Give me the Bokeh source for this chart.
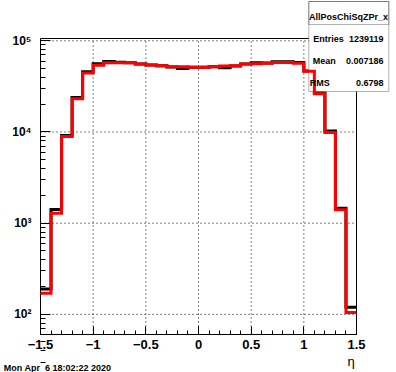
import math
from bokeh.plotting import figure
from bokeh.models import FixedTicker, BoxAnnotation, Label, Range1d
from bokeh.embed import file_html
from bokeh.resources import INLINE

# ---------------- data ----------------
bin_edges = [-1.5, -1.4, -1.3, -1.2, -1.1, -1.0, -0.9, -0.8, -0.7, -0.6, -0.5,
             -0.4, -0.3, -0.2, -0.1, 0.0, 0.1, 0.2, 0.3, 0.4, 0.5,
             0.6, 0.7, 0.8, 0.9, 1.0, 1.1, 1.2, 1.3, 1.4, 1.5]
black_counts = [190, 1413, 9160, 23900, 45700, 55900, 59300, 58200, 57400, 55700,
                54300, 53200, 51600, 49700, 51400, 51400, 51900, 50600, 53000, 55700,
                57400, 57100, 58900, 58900, 57800, 46700, 26900, 10260, 1460, 120]
red_counts = [171, 1288, 8930, 23100, 44400, 54000, 57400, 57400, 57400, 55700,
              54300, 53200, 51900, 51900, 51400, 51400, 51900, 53000, 53200, 55700,
              56000, 56800, 57800, 57800, 56800, 46400, 26200, 9890, 1403, 105]
xtick_vals = [-1.5, -1.0, -0.5, 0.0, 0.5, 1.0, 1.5]
xtick_labels = ["\u22121.5", "\u22121", "\u22120.5", "0", "0.5", "1", "1.5"]
ytick_vals = [100, 1000, 10000, 100000]
ytick_labels = ["10\u00b2", "10\u00b3", "10\u2074", "10\u2075"]
hist_name = "AllPosChiSqZPr_x"
stat_names = ["Entries", "Mean", "RMS"]
stat_values = ["1239119", "0.007186", "0.6798"]
date_text = "Mon Apr  6 18:02:22 2020"
x_title = "\u03b7"

# axis extents (data)
X0, X1 = -1.5, 1.5
Y0, Y1 = 60.2, 105900.0

# canvas and where the axis box sits on it (pixels)
W, H = 396, 372
FL, FR, FT, FB = 40, 356, 38, 334

xpp = (X1 - X0) / (FR - FL)
XS, XE = X0 - FL * xpp, X1 + (W - FR) * xpp
lpp = (math.log10(Y1) - math.log10(Y0)) / (FB - FT)
YT = 10 ** (math.log10(Y1) + FT * lpp)
YB = 10 ** (math.log10(Y0) - (H - FB) * lpp)

def dx(px):
    return XS + px * xpp

def dy(py):
    return 10 ** (math.log10(YT) - py * lpp)

p = figure(width=W, height=H, x_range=Range1d(XS, XE), y_range=Range1d(YB, YT),
           y_axis_type="log", output_backend="svg", toolbar_location=None,
           min_border=0, min_border_left=0, min_border_right=0, min_border_top=0,
           min_border_bottom=0)
p.background_fill_color = "white"
p.border_fill_color = "white"
p.outline_line_color = None
p.xgrid.visible = False
p.ygrid.visible = False

# axes fixed on the box edges
x_minor = [round(-1.5 + 0.1 * k, 2) for k in range(31)]
y_minor = [m * dec for dec in [10, 100, 1000, 10000] for m in range(2, 10)]
xa, ya = p.xaxis[0], p.yaxis[0]
xa.fixed_location = Y0
ya.fixed_location = X0
xa.bounds = (X0, X1)
ya.bounds = (Y0, Y1)
xa.ticker = FixedTicker(ticks=xtick_vals, minor_ticks=x_minor)
ya.ticker = FixedTicker(ticks=ytick_vals, minor_ticks=y_minor)
xa.major_label_overrides = {float(v): l for v, l in zip(xtick_vals, xtick_labels)}
ya.major_label_overrides = {float(v): l for v, l in zip(ytick_vals, ytick_labels)}
for ax in (xa, ya):
    ax.axis_line_color = "black"
    ax.axis_line_width = 1
    ax.major_tick_line_color = "black"
    ax.minor_tick_line_color = "black"
    ax.major_tick_out = 0
    ax.minor_tick_out = 0
    ax.major_label_text_font = "Liberation Sans"
    ax.major_label_text_font_style = "bold"
    ax.major_label_text_color = "black"
xa.major_label_text_font_size = "13px"
ya.major_label_text_font_size = "12px"
xa.major_tick_in = 8
xa.minor_tick_in = 4
ya.major_tick_in = 10
ya.minor_tick_in = 5
xa.major_label_standoff = 5
ya.major_label_standoff = 9

# dotted grid at the major ticks
p.segment(x0=xtick_vals, x1=xtick_vals, y0=[Y0] * len(xtick_vals), y1=[Y1] * len(xtick_vals),
          line_color="black", line_width=1, line_dash="1 3")
p.segment(x0=[X0] * len(ytick_vals), x1=[X1] * len(ytick_vals), y0=ytick_vals, y1=ytick_vals,
          line_color="black", line_width=1, line_dash="1 3")
# top and right edges of the frame
p.segment(x0=[X0, X1], x1=[X1, X1], y0=[Y1, Y0], y1=[Y1, Y1], line_color="black", line_width=1)

# histograms
p.step(x=bin_edges, y=black_counts + [black_counts[-1]], mode="after",
       line_color="black", line_width=3, line_join="miter")

box = BoxAnnotation(left=dx(308.3), right=dx(388.3), top=dy(1), bottom=dy(91),
                    fill_color="white", fill_alpha=1, line_color="black", line_width=1,
                    level="annotation")
p.add_layout(box)
tbox = BoxAnnotation(left=dx(308.3), right=dx(388.3), top=dy(1), bottom=dy(24),
                     fill_alpha=0, line_color="black", line_width=1, level="annotation")
p.add_layout(tbox)

red_r = p.step(x=bin_edges, y=red_counts + [red_counts[-1]], mode="after",
               line_color="red", line_width=3, line_join="miter")
red_r.level = "overlay"

def lab(px, py, text, size, align="left", baseline="alphabetic", style="bold"):
    p.add_layout(Label(x=dx(px), y=dy(py), text=text, text_font="Liberation Sans",
                       text_font_size=size, text_font_style=style, text_align=align,
                       text_baseline=baseline, text_color="black", level="overlay"))

lab(348, 16, hist_name, "9px", align="center")
label_x = [312.7, 312.3, 309.3]
rows_y = [38.3, 60.7, 82.7]
for nm, val, lx, ry in zip(stat_names, stat_values, label_x, rows_y):
    lab(lx, ry, nm, "9px")
    lab(383, ry, val, "9px", align="right")

lab(3.3, 367.7, date_text.replace("  ", " \u00a0"), "9px")
lab(350.5, 361, x_title, "13px", align="center", baseline="middle", style="normal")

open("out.html", "w").write(file_html(p, INLINE))
